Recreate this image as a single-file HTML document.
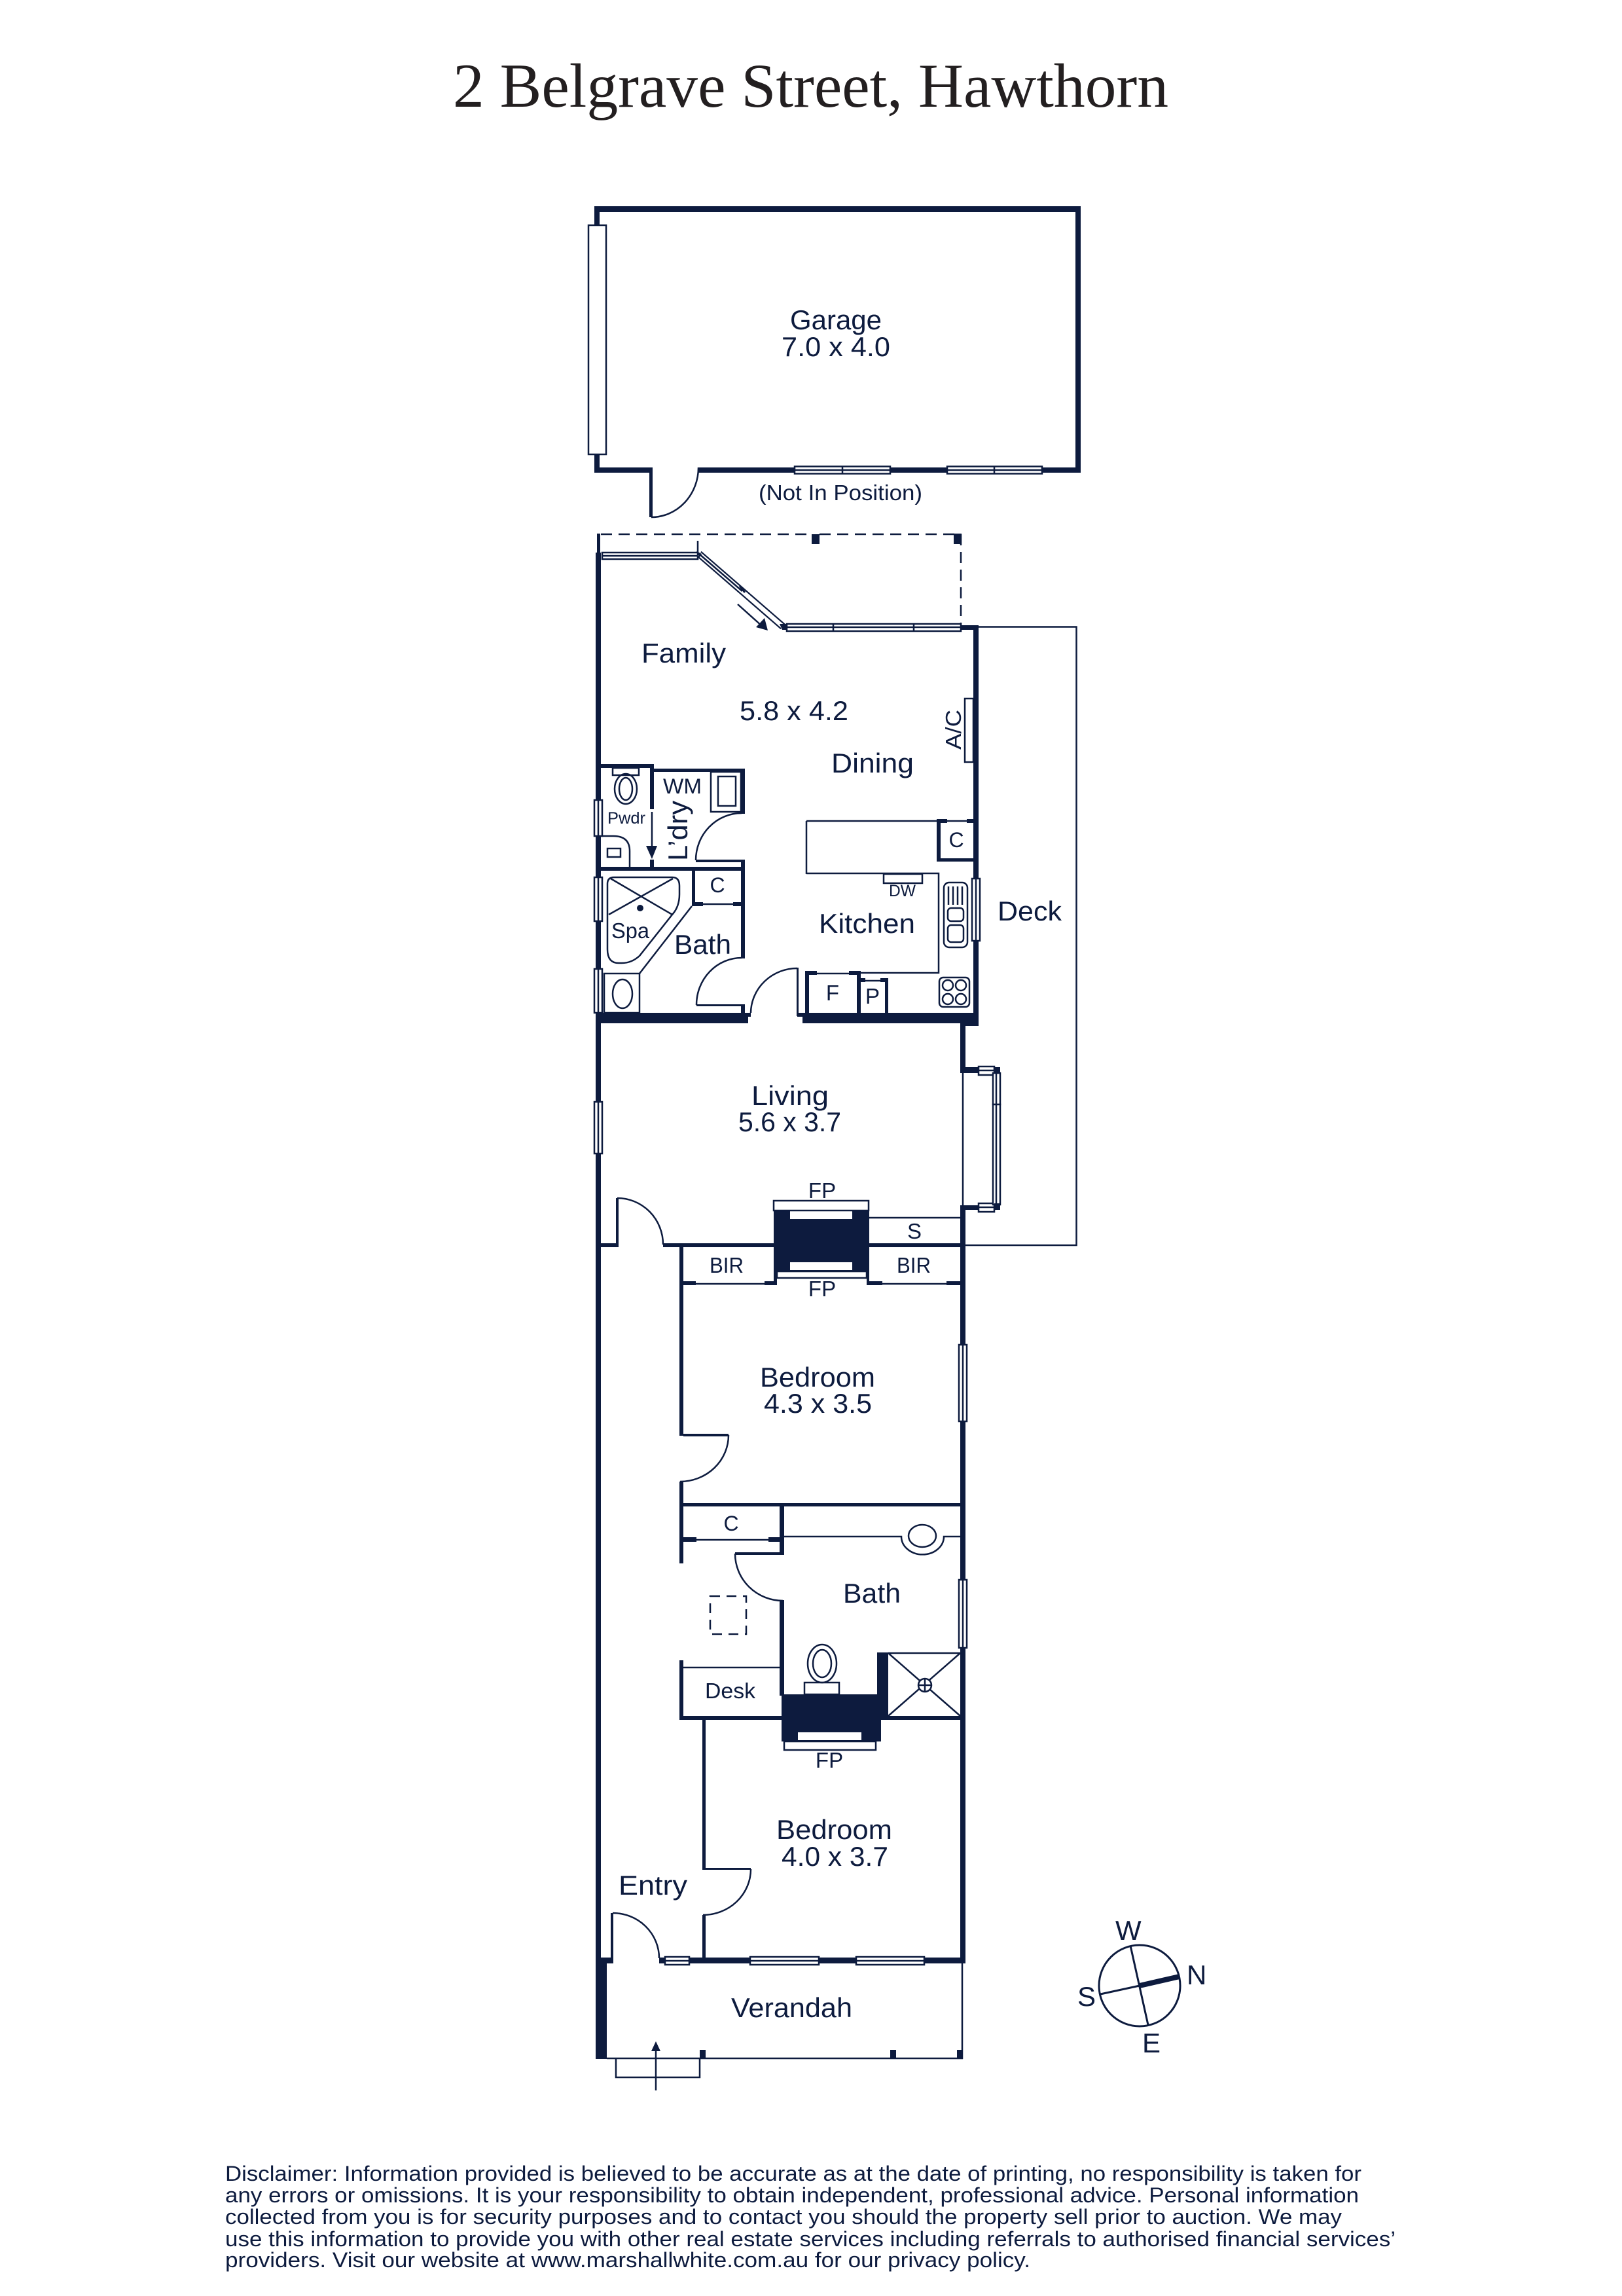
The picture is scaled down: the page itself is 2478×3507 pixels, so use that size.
<!DOCTYPE html>
<html><head><meta charset="utf-8"><style>
html,body{margin:0;padding:0;background:#fff}
svg{display:block}
text{font-family:"Liberation Sans",sans-serif;fill:#0d1b3e;font-size:42px}
.s{fill:none;stroke:#0d1b3e;stroke-width:2.5}
.w{fill:#fff;stroke:#0d1b3e;stroke-width:2.5}
</style></head><body>
<svg width="2478" height="3507" viewBox="0 0 2478 3507" xmlns="http://www.w3.org/2000/svg">
<rect width="2478" height="3507" fill="#fff"/>
<text x="692" y="163" textLength="1093" lengthAdjust="spacingAndGlyphs" style="font-family:'Liberation Serif',serif;font-size:95px;fill:#231f20">2 Belgrave Street, Hawthorn</text>

<!-- solid walls -->
<path fill="#0d1b3e" d="
M908 315H1651V324H908Z M908 315H916V722H908Z M1643 315H1651V722H1643Z M908 714H997V722H908Z M1067 714H1651V722H1067Z M992 714H997V790H992Z
M912 815H917V844H912Z M910 844H918V2999H910Z
M1240 816H1252V831H1240Z M1457 815H1469V831H1457Z
M1468 955H1495V962H1468Z M1487 955H1495V1567H1487Z
M918 1167H999V1173H918Z M993 1167H999V1236H993Z M999 1174H1138V1179H999Z M1132 1174H1138V1243H1132Z
M993 1313H999V1325H993Z M918 1324H1138V1330H918Z M1132 1313H1138V1330H1132Z M1063 1313H1133V1317H1063Z
M1057 1330H1062V1384H1057Z M1057 1378H1074V1384H1057Z M1120 1378H1132V1384H1120Z M1132 1330H1138V1464H1132Z
M1064 1534H1132V1537H1064Z M1132 1534H1138V1547H1132Z M910 1547H1143V1563H910Z M1138 1547H1147V1553H1138Z
M1431 1251H1437V1316H1431Z M1431 1251H1447V1257H1431Z M1477 1251H1487V1257H1477Z M1431 1311H1487V1316H1431Z
M1230 1483H1236V1548H1230Z M1230 1483H1248V1489H1230Z M1297 1483H1315V1489H1297Z M1309 1483H1315V1548H1309Z
M1315 1494H1322V1500H1315Z M1345 1494H1357V1500H1345Z M1352 1494H1357V1548H1352Z
M1226 1547H1495V1563H1226Z M1467 1563H1495V1567H1467Z M1218 1547H1228V1553H1218Z M1217 1478H1220V1552H1217Z
M1467 1560H1475V1639H1467Z M1467 1630H1495V1639H1467Z M1467 1841H1495V1848H1467Z M1467 1841H1475V2999H1467Z
M918 1899H944V1905H918Z M941 1830H945V1905H941Z M1013 1899H1467V1905H1013Z
M1182 1849H1328V1942H1182Z
M1182 1942H1187V1963H1182Z M1168 1957H1187V1963H1168Z M1043 1957H1063V1963H1043Z M1324 1942H1328V1963H1324Z M1324 1957H1348V1963H1324Z M1446 1957H1467V1963H1446Z
M1038 1905H1044V2193H1038Z M1044 2190H1113V2194H1044Z M1038 2263H1044V2388H1038Z
M1044 2296H1467V2301H1044Z M1191 2296H1198V2375H1191Z M1044 2348H1064V2355H1044Z M1174 2348H1191V2355H1174Z M1123 2371H1198V2375H1123Z
M1191 2444H1198V2590H1191Z
M1038 2536H1044V2627H1038Z M1038 2621H1194V2627H1038Z
M1194 2588H1357V2621H1194Z M1194 2621H1346V2660H1194Z M1340 2524H1357V2590H1340Z M1346 2621H1467V2627H1346Z
M1073 2627H1078V2856H1073Z M1073 2853H1147V2856H1073Z M1073 2925H1078V2994H1073Z
M918 2990H937V2999H918Z M933 2922H937V2994H933Z M1007 2990H1475V2999H1007Z
M910 2998H927V3145H910Z M1069 3131H1078V3145H1069Z M1360 3131H1369V3145H1360Z M1462 3131H1471V3145H1462Z
"/>

<!-- fireplace inserts -->
<rect x="1207" y="1850" width="95" height="12" fill="#fff"/>
<rect x="1207" y="1928" width="95" height="12" fill="#fff"/>
<rect x="1219" y="2646" width="97" height="12" fill="#fff"/>
<rect class="w" x="1182" y="1834" width="145" height="15"/>
<rect class="w" x="1187" y="1942" width="137" height="10"/>
<rect class="w" x="1198" y="2660" width="140" height="13"/>

<!-- thin lines -->
<g class="s">
<path d="M1066 826V844"/>
<path d="M918 816H1240M1252 816H1468V955" stroke-dasharray="17 10"/>
<path d="M1495 957.5H1644.5V1902H1475"/>
<path d="M1127 923L1165 957"/>
<path d="M996 1240V1293"/>
<rect x="1086" y="1179" width="46" height="61"/>
<rect x="1097" y="1186" width="27" height="45"/>
<rect x="936" y="1173" width="40" height="11"/>
<ellipse cx="956" cy="1205" rx="17" ry="23"/>
<ellipse cx="956" cy="1205" rx="10" ry="17"/>
<path d="M918 1277H937Q962 1277 962 1300V1325"/>
<rect x="928" y="1296" width="20" height="13"/>
<path d="M1074 1381H1120"/>
<path d="M1057 1384L977 1487"/>
<rect x="923" y="1487" width="54" height="60"/>
<ellipse cx="951" cy="1518" rx="15" ry="22"/>
<path d="M938 1340H1027Q1038 1340 1038 1353V1366Q1038 1385 1027 1397L977 1460Q965 1471 950 1471H945Q928 1471 928 1450V1350Q928 1340 938 1340Z"/>
<path d="M933 1342L1027 1397M1028 1342L930 1397"/>
<path d="M1063 1314A70 72 0 0 1 1133 1242"/>
<path d="M1064 1535A69 72 0 0 1 1133 1463"/>
<path d="M1147 1547A71 69 0 0 1 1218 1479"/>
<path d="M995 790A72 76 0 0 0 1067 714"/>
<path d="M943 1830A70 71 0 0 1 1013 1901"/>
<path d="M1113 2192A74 71 0 0 1 1039 2263"/>
<path d="M1123 2373A73 72 0 0 0 1196 2445"/>
<path d="M1147 2855A73 70 0 0 1 1074 2925"/>
<path d="M936 2922A71 69 0 0 1 1007 2991"/>
<rect x="1474" y="1067" width="13" height="97"/>
<path d="M1232 1254H1431M1447 1254H1477M1232 1254V1335M1232 1334H1434V1486H1315M1248 1487H1297M1322 1498H1345"/>
<rect x="1350" y="1335" width="59" height="14"/>
<rect x="1442" y="1348" width="36" height="99" rx="8"/>
<path d="M1449 1354V1382M1456 1354V1382M1463 1354V1382M1470 1354V1382"/>
<rect x="1448" y="1387" width="24" height="20" rx="5"/>
<rect x="1448" y="1413" width="24" height="26" rx="5"/>
<rect x="1435" y="1493" width="46" height="45" rx="6"/>
<circle cx="1448" cy="1505" r="8"/><circle cx="1468" cy="1505" r="8"/>
<circle cx="1448" cy="1526" r="8"/><circle cx="1468" cy="1526" r="8"/>
<path d="M1471 1639V1841"/>
<path d="M1328 1860H1467"/>
<path d="M1063 1961H1168M1348 1961H1446"/>
<path d="M1064 2352H1174"/>
<path d="M1198 2347H1377A32 27 0 0 0 1442 2347H1467"/>
<ellipse cx="1409" cy="2346" rx="21" ry="17"/>
<rect x="1085" y="2438" width="55" height="58" stroke-dasharray="15 10"/>
<path d="M1044 2547H1191"/>
<ellipse cx="1256" cy="2541" rx="22" ry="29"/>
<ellipse cx="1256" cy="2541" rx="14" ry="21"/>
<rect x="1229" y="2570" width="53" height="18"/>
<path d="M1357 2525H1467M1357 2525L1467 2621M1467 2525L1357 2621"/>
<circle cx="1413" cy="2574" r="10" fill="#fff"/>
<path d="M1403 2574H1423M1413 2564V2584"/>
<path d="M927 3144H1471M1470 2998V3145M941 3144V3173H1069V3144M1002 3193V3130"/>
<circle cx="1741" cy="3033" r="62" stroke-width="3"/>
<path d="M1727 2972L1754 3093M1681 3046L1741 3033" stroke-width="3"/>
</g>
<circle cx="978" cy="1387" r="5" fill="#0d1b3e"/>
<path d="M1741 3033L1802 3019" stroke="#0d1b3e" stroke-width="8" fill="none"/>
<path fill="#0d1b3e" d="M1173 963L1155 958L1168 944Z M987 1292H1004L996 1312Z M995 3133H1009L1002 3118Z"/>

<!-- windows -->
<rect class="w" x="899" y="344" width="27" height="350"/>
<g class="w">
<rect x="1214" y="712.5" width="146" height="11"/>
<rect x="1447" y="712.5" width="145" height="11"/>
<rect x="920" y="844" width="146" height="10"/>
<rect x="1202" y="953" width="266" height="11"/>
<rect x="908" y="1222" width="12" height="55"/>
<rect x="908" y="1340" width="12" height="67"/>
<rect x="908" y="1480" width="12" height="67"/>
<rect x="1485" y="1342" width="12" height="95"/>
<rect x="908" y="1683" width="12" height="79"/>
<rect x="1495" y="1629" width="24" height="13"/>
<rect x="1495" y="1838" width="24" height="13"/>
<rect x="1517" y="1639" width="11" height="48"/>
<rect x="1517" y="1687" width="11" height="153"/>
<rect x="1465" y="2054" width="12" height="117"/>
<rect x="1465" y="2413" width="12" height="104"/>
<rect x="1016" y="2989" width="37" height="12"/>
<rect x="1146" y="2989" width="105" height="12"/>
<rect x="1308" y="2989" width="104" height="12"/>
</g>
<path fill="#0d1b3e" d="M1519 1630H1528V1640H1519Z M1519 1838H1528V1848H1519Z"/>
<path class="s" d="M1214 718H1360M1287 712V724M1447 718H1592M1519 712V724
M920 849H1066M1202 958H1468M1273 953V964M1396 953V964
M914 1222V1277M914 1340V1407M914 1480V1547M1491 1342V1437M914 1683V1762
M1495 1635H1519M1495 1844H1519M1522 1639V1840
M1471 2054V2171M1471 2413V2517
M1016 2995H1053M1146 2995H1251M1308 2995H1412"/>
<!-- diagonal window -->
<path d="M1068 846L1196 957" stroke="#0d1b3e" stroke-width="11" fill="none"/>
<path d="M1068 846L1196 957" stroke="#fff" stroke-width="6.5" fill="none"/>
<path d="M1068 846L1134 903" stroke="#0d1b3e" stroke-width="2.5" fill="none"/>
<path d="M1130 895L1138 905" stroke="#0d1b3e" stroke-width="3" fill="none"/>
<path fill="#0d1b3e" d="M1191 953H1202V962H1195Z M1064 842L1072 846L1068 852Z"/>

<!-- labels -->
<text x="1207" y="503" textLength="140" lengthAdjust="spacingAndGlyphs">Garage</text>
<text x="1194" y="544" textLength="166" lengthAdjust="spacingAndGlyphs">7.0 x 4.0</text>
<text x="1159" y="764" textLength="250" lengthAdjust="spacingAndGlyphs" style="font-size:33px">(Not In Position)</text>
<text x="980" y="1012" textLength="129" lengthAdjust="spacingAndGlyphs">Family</text>
<text x="1130" y="1100" textLength="166" lengthAdjust="spacingAndGlyphs">5.8 x 4.2</text>
<text x="1270" y="1180" textLength="126" lengthAdjust="spacingAndGlyphs">Dining</text>
<text transform="translate(1468 1145) rotate(-90)" textLength="61" lengthAdjust="spacingAndGlyphs" style="font-size:33px">A/C</text>
<text x="1013" y="1212" textLength="59" lengthAdjust="spacingAndGlyphs" style="font-size:32px">WM</text>
<text transform="translate(1050 1315) rotate(-90)" textLength="92" lengthAdjust="spacingAndGlyphs">L’dry</text>
<text x="928" y="1258" textLength="58" lengthAdjust="spacingAndGlyphs" style="font-size:25px">Pwdr</text>
<text x="934" y="1433" textLength="58" lengthAdjust="spacingAndGlyphs" style="font-size:33px">Spa</text>
<text x="1030" y="1457" textLength="87" lengthAdjust="spacingAndGlyphs">Bath</text>
<text x="1096" y="1363" text-anchor="middle" style="font-size:32px">C</text>
<text x="1461" y="1294" text-anchor="middle" style="font-size:32px">C</text>
<text x="1358" y="1369" textLength="41" lengthAdjust="spacingAndGlyphs" style="font-size:25px">DW</text>
<text x="1251" y="1425" textLength="147" lengthAdjust="spacingAndGlyphs">Kitchen</text>
<text x="1524" y="1406" textLength="98" lengthAdjust="spacingAndGlyphs">Deck</text>
<text x="1272" y="1528" text-anchor="middle" style="font-size:33px">F</text>
<text x="1333" y="1533" text-anchor="middle" style="font-size:33px">P</text>
<text x="1148" y="1688" textLength="118" lengthAdjust="spacingAndGlyphs">Living</text>
<text x="1128" y="1728" textLength="157" lengthAdjust="spacingAndGlyphs">5.6 x 3.7</text>
<text x="1256" y="1830" text-anchor="middle" style="font-size:33px">FP</text>
<text x="1397" y="1892" text-anchor="middle" style="font-size:33px">S</text>
<text x="1084" y="1944" textLength="52" lengthAdjust="spacingAndGlyphs" style="font-size:33px">BIR</text>
<text x="1370" y="1944" textLength="52" lengthAdjust="spacingAndGlyphs" style="font-size:33px">BIR</text>
<text x="1256" y="1980" text-anchor="middle" style="font-size:33px">FP</text>
<text x="1161" y="2118" textLength="176" lengthAdjust="spacingAndGlyphs">Bedroom</text>
<text x="1167" y="2158" textLength="165" lengthAdjust="spacingAndGlyphs">4.3 x 3.5</text>
<text x="1117" y="2338" text-anchor="middle" style="font-size:32px">C</text>
<text x="1288" y="2448" textLength="88" lengthAdjust="spacingAndGlyphs">Bath</text>
<text x="1077" y="2594" textLength="77" lengthAdjust="spacingAndGlyphs" style="font-size:33px">Desk</text>
<text x="1267" y="2700" text-anchor="middle" style="font-size:33px">FP</text>
<text x="1186" y="2809" textLength="177" lengthAdjust="spacingAndGlyphs">Bedroom</text>
<text x="1194" y="2850" textLength="163" lengthAdjust="spacingAndGlyphs">4.0 x 3.7</text>
<text x="945" y="2894" textLength="105" lengthAdjust="spacingAndGlyphs">Entry</text>
<text x="1117" y="3081" textLength="185" lengthAdjust="spacingAndGlyphs">Verandah</text>
<text x="1704" y="2963">W</text>
<text x="1813" y="3031">N</text>
<text x="1646" y="3064">S</text>
<text x="1745" y="3135">E</text>

<!-- disclaimer -->
<g style="font-size:32px">
<text x="344" y="3331" textLength="1736" lengthAdjust="spacingAndGlyphs" style="font-size:32px">Disclaimer: Information provided is believed to be accurate as at the date of printing, no responsibility is taken for</text>
<text x="344" y="3364" textLength="1732" lengthAdjust="spacingAndGlyphs" style="font-size:32px">any errors or omissions. It is your responsibility to obtain independent, professional advice. Personal information</text>
<text x="344" y="3397" textLength="1706" lengthAdjust="spacingAndGlyphs" style="font-size:32px">collected from you is for security purposes and to contact you should the property sell prior to auction. We may</text>
<text x="344" y="3431" textLength="1788" lengthAdjust="spacingAndGlyphs" style="font-size:32px">use this information to provide you with other real estate services including referrals to authorised financial services’</text>
<text x="344" y="3463" textLength="1230" lengthAdjust="spacingAndGlyphs" style="font-size:32px">providers. Visit our website at www.marshallwhite.com.au for our privacy policy.</text>
</g>
</svg>
</body></html>
